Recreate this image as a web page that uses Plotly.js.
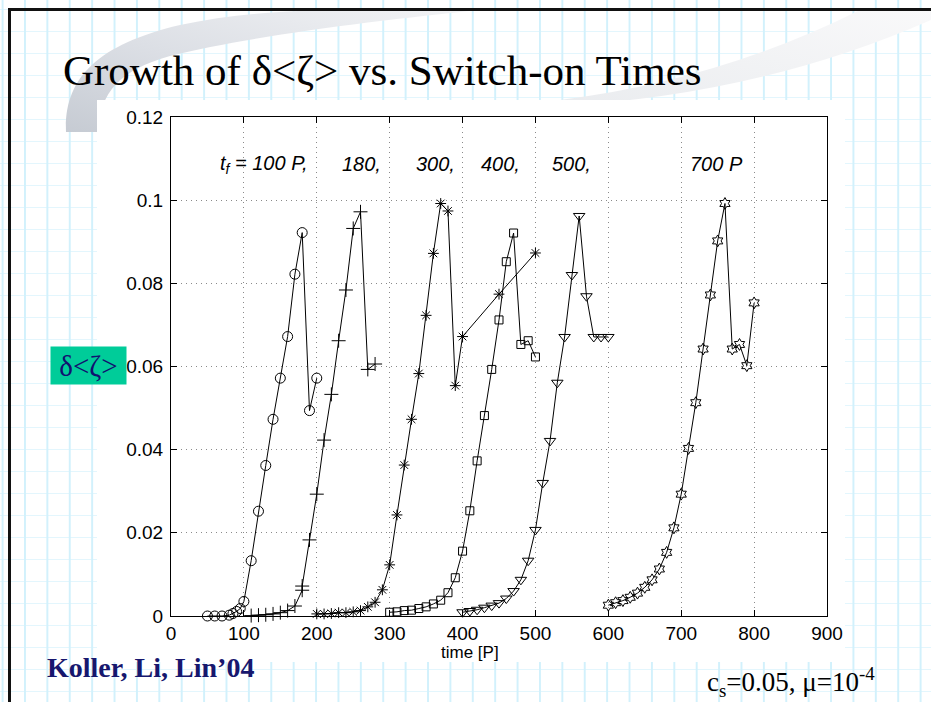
<!DOCTYPE html>
<html>
<head>
<meta charset="utf-8">
<script src="https://cdn.plot.ly/plotly-3.0.1.min.js"></script>
<style>
  html, body { margin:0; padding:0; width:931px; height:702px; overflow:hidden; background:#fff; }
  #bg { position:absolute; left:0; top:0; width:931px; height:702px; overflow:hidden;
        background-color:#fff;
        background-image: linear-gradient(to right, #d2f1fc 2px, transparent 2px),
                          linear-gradient(to bottom, #e3f6fd 1px, transparent 1px);
        background-size: 22.4px 22px, 22.4px 22px;
        background-position: 24px 0, 0 9px; }
  #white { position:absolute; left:97px; top:100px; width:748px; height:562px; background:#fff; }
  #topline { position:absolute; left:8px; top:8px; width:923px; height:3px; background:#111; }
  #leftline { position:absolute; left:8px; top:8px; width:3px; height:694px; background:#111; }
  #plot { position:absolute; left:0; top:0; width:931px; height:702px; }
</style>
</head>
<body>
<div id="bg">
  <svg width="931" height="702" style="position:absolute;left:0;top:0">
    <defs>
      <linearGradient id="gl" x1="0" y1="1" x2="1" y2="0">
        <stop offset="0" stop-color="#c6cbd3"/>
        <stop offset="0.45" stop-color="#dcdfe5"/>
        <stop offset="1" stop-color="#f3f4f6"/>
      </linearGradient>
      <linearGradient id="gr" x1="0" y1="1" x2="1" y2="0">
        <stop offset="0" stop-color="#eaecef"/>
        <stop offset="1" stop-color="#f9f9fa"/>
      </linearGradient>
    </defs>
    <path d="M 66,132 C 64,80 95,45 180,25 C 230,14 290,10 340,10 L 480,10 C 380,20 250,36 170,56 C 120,70 100,92 98,132 Z" fill="url(#gl)"/>
    <path d="M 560,100 Q 720,80 860,10 L 931,10 L 931,20 Q 760,95 560,106 Z" fill="url(#gr)"/>
  </svg>
  <div id="white"></div>
  <div id="topline"></div>
  <div id="leftline"></div>
</div>
<div id="plot"></div>
<script>
// ---- data (time in P, value of delta<zeta>) ----
const labels = ["t<sub>f</sub> = 100 P,", "180,", "300,", "400,", "500,", "700 P"];

const t100 = [50, 60, 70, 80, 85, 90, 95, 100, 110, 120, 130, 140, 150, 160, 170, 180, 190, 200];
const v100 = [0, 0, 0, 0.0002, 0.0006, 0.0011, 0.0018, 0.0035, 0.0133, 0.0252, 0.0362, 0.0473, 0.0572, 0.0672, 0.0822, 0.0922, 0.0494, 0.0572];

const t180 = [110, 120, 130, 140, 150, 160, 170, 180, 180, 190, 200, 210, 220, 230, 240, 250, 260, 270, 280];
const v180 = [0.0001, 0.0002, 0.0003, 0.0005, 0.0008, 0.0013, 0.0024, 0.0062, 0.0072, 0.0183, 0.0293, 0.0423, 0.0533, 0.0662, 0.0784, 0.0932, 0.0972, 0.0593, 0.0606];

const t300 = [200, 210, 220, 230, 240, 250, 260, 270, 280, 290, 300, 310, 320, 330, 340, 350, 360, 370, 380, 390, 400, 450, 500];
const v300 = [0.0005, 0.0005, 0.0006, 0.0008, 0.0008, 0.001, 0.0013, 0.0022, 0.0033, 0.0063, 0.0123, 0.0243, 0.0363, 0.0473, 0.0583, 0.0723, 0.0872, 0.0992, 0.0974, 0.0554, 0.0672, 0.0774, 0.0873];

const t400 = [300, 310, 320, 330, 340, 350, 360, 370, 380, 390, 400, 410, 420, 430, 440, 450, 460, 470, 480, 490, 500];
const v400 = [0.0009, 0.001, 0.0013, 0.0014, 0.0018, 0.0022, 0.0029, 0.0038, 0.0056, 0.0092, 0.0156, 0.0253, 0.0373, 0.0482, 0.0593, 0.0712, 0.0852, 0.0921, 0.0653, 0.0662, 0.0623];

const t500 = [400, 410, 420, 430, 440, 450, 460, 470, 480, 490, 500, 510, 520, 530, 540, 550, 560, 570, 580, 590, 600];
const v500 = [0.0009, 0.0012, 0.0015, 0.002, 0.0025, 0.0031, 0.0042, 0.006, 0.0087, 0.0133, 0.0207, 0.032, 0.0421, 0.0561, 0.0671, 0.082, 0.0962, 0.0769, 0.0671, 0.0671, 0.0671];

const t700 = [600, 610, 620, 630, 640, 650, 660, 670, 680, 690, 700, 710, 720, 730, 740, 750, 760, 770, 780, 790, 800];
const v700 = [0.0026, 0.0032, 0.0037, 0.0045, 0.0055, 0.0069, 0.0087, 0.0113, 0.0153, 0.0212, 0.0293, 0.0403, 0.0513, 0.0642, 0.0772, 0.0902, 0.0992, 0.0642, 0.0653, 0.0602, 0.0753];

const xTicks = [0, 100, 200, 300, 400, 500, 600, 700, 800, 900];
const yTicks = [0, 0.02, 0.04, 0.06, 0.08, 0.1, 0.12];

// ---- layout geometry ----
const L = 171, R = 827, T = 117, B = 616;
const X = px => (px - L) / (R - L);
const Y = py => (B - py) / (B - T);

function series(x, y, sym, size) {
  return {
    x: x, y: y, type: 'scatter', mode: 'lines+markers', cliponaxis: false,
    line: {color: '#000', width: 1},
    marker: {symbol: sym, size: size, color: '#000', line: {color: '#000', width: 1}},
    showlegend: false, hoverinfo: 'skip'
  };
}

const data = [
  series(t100, v100, 'circle-open', 10),
  series(t180, v180, 'cross-thin-open', 10),
  series(t300, v300, 'asterisk-open', 9),
  series(t400, v400, 'square-open', 8),
  series(t500, v500, 'triangle-down-open', 10),
  series(t700, v700, 'hexagram-open', 9)
];

const labelX = [218, 340, 414, 479, 550, 688];
const annotations = labels.map((s, i) => ({
  text: s, xref: 'paper', yref: 'paper', x: X(labelX[i]), y: Y(164),
  xanchor: 'left', yanchor: 'middle', showarrow: false,
  font: {family: 'Liberation Sans, Arial, sans-serif', size: 20, color: '#000', style: 'italic'}
}));

annotations.push(
  {text: 'Growth of δ&lt;ζ&gt; vs. Switch-on Times', xref: 'paper', yref: 'paper',
   x: X(61), y: Y(70), xanchor: 'left', yanchor: 'middle', showarrow: false,
   font: {family: 'Liberation Serif, Times New Roman, serif', size: 43, color: '#000'}},
  {text: 'δ&lt;ζ&gt;', xref: 'paper', yref: 'paper', x: X(88.5), y: Y(365.5),
   xanchor: 'center', yanchor: 'middle', showarrow: false, width: 75, height: 37, borderpad: 0,
   bgcolor: '#00cc99', font: {family: 'Liberation Serif, Times New Roman, serif', size: 29, color: '#111170'}},
  {text: 'time [P]', xref: 'paper', yref: 'paper', x: X(470), y: Y(652),
   xanchor: 'center', yanchor: 'middle', showarrow: false,
   font: {family: 'Liberation Sans, Arial, sans-serif', size: 17, color: '#000'}},
  {text: '<b>Koller, Li, Lin’04</b>', xref: 'paper', yref: 'paper', x: X(45), y: Y(667),
   xanchor: 'left', yanchor: 'middle', showarrow: false,
   font: {family: 'Liberation Serif, Times New Roman, serif', size: 28, color: '#17176e'}},
  {text: 'c<sub>s</sub>=0.05, μ=10<sup>-4</sup>', xref: 'paper', yref: 'paper', x: X(705), y: Y(682),
   xanchor: 'left', yanchor: 'middle', showarrow: false,
   font: {family: 'Liberation Serif, Times New Roman, serif', size: 27, color: '#000'}}
);

const axisCommon = {
  showline: true, linecolor: '#000', linewidth: 1, mirror: 'ticks',
  ticks: 'inside', ticklen: 6, tickcolor: '#000', tickwidth: 1,
  showgrid: true, gridcolor: '#8a8a8a', griddash: '1px,4px', gridwidth: 1,
  zeroline: false, fixedrange: true,
  tickfont: {family: 'Liberation Sans, Arial, sans-serif', size: 19, color: '#000'}
};

const layout = {
  width: 931, height: 702,
  margin: {l: L, r: 931 - R, t: T, b: 702 - B, pad: 0},
  paper_bgcolor: 'rgba(0,0,0,0)', plot_bgcolor: '#fff',
  xaxis: Object.assign({}, axisCommon, {range: [0, 900], tickvals: xTicks, ticklabelstandoff: 0}),
  yaxis: Object.assign({}, axisCommon, {range: [0, 0.12], tickvals: yTicks, ticklabelstandoff: 3}),
  annotations: annotations,
  showlegend: false
};

Plotly.newPlot('plot', data, layout, {displayModeBar: false, staticPlot: true});
</script>
</body>
</html>
